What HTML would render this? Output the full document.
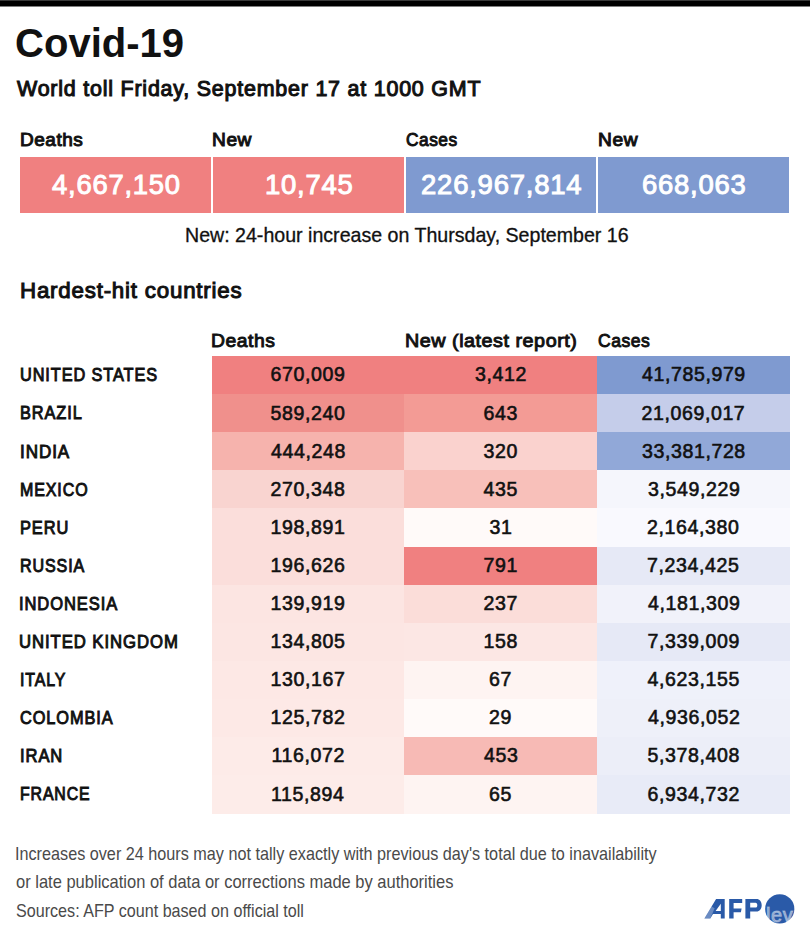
<!DOCTYPE html>
<html><head><meta charset="utf-8"><title>Covid-19</title><style>
*{margin:0;padding:0;box-sizing:border-box}
html,body{width:810px;height:930px;background:#fff;overflow:hidden}
body{position:relative;font-family:"Liberation Sans",sans-serif;color:#111}
.t{position:absolute;white-space:nowrap}
</style></head>
<body>
<div style="position:absolute;left:0;top:0;width:810px;height:7px;background:linear-gradient(#3a3a3a 0,#3a3a3a 1px,#000 1px,#000 6px,#808080 6px,#808080 7px)"></div>
<div style="position:absolute;top:157px;height:56px;left:20px;width:191px;background:#f08080"></div>
<div style="position:absolute;top:157px;height:56px;left:213px;width:191px;background:#f08080"></div>
<div style="position:absolute;top:157px;height:56px;left:405.5px;width:190.5px;background:#7f9ad0"></div>
<div style="position:absolute;top:157px;height:56px;left:598px;width:191px;background:#7f9ad0"></div>
<div style="position:absolute;left:212px;top:356.00px;width:192px;height:38.70px;background:#f08080"></div>
<div style="position:absolute;left:404px;top:356.00px;width:193px;height:38.70px;background:#f08080"></div>
<div style="position:absolute;left:597px;top:356.00px;width:193px;height:38.70px;background:#7f9ad0"></div>
<div style="position:absolute;left:212px;top:394.10px;width:192px;height:38.70px;background:#f0908c"></div>
<div style="position:absolute;left:404px;top:394.10px;width:193px;height:38.70px;background:#f39b95"></div>
<div style="position:absolute;left:597px;top:394.10px;width:193px;height:38.70px;background:#c5cdea"></div>
<div style="position:absolute;left:212px;top:432.20px;width:192px;height:38.70px;background:#f6b3ad"></div>
<div style="position:absolute;left:404px;top:432.20px;width:193px;height:38.70px;background:#fad2ce"></div>
<div style="position:absolute;left:597px;top:432.20px;width:193px;height:38.70px;background:#91a8d8"></div>
<div style="position:absolute;left:212px;top:470.30px;width:192px;height:38.70px;background:#f9d4d0"></div>
<div style="position:absolute;left:404px;top:470.30px;width:193px;height:38.70px;background:#f8c0ba"></div>
<div style="position:absolute;left:597px;top:470.30px;width:193px;height:38.70px;background:#f5f6fc"></div>
<div style="position:absolute;left:212px;top:508.40px;width:192px;height:38.70px;background:#fbdedb"></div>
<div style="position:absolute;left:404px;top:508.40px;width:193px;height:38.70px;background:#fffaf9"></div>
<div style="position:absolute;left:597px;top:508.40px;width:193px;height:38.70px;background:#f9f9fe"></div>
<div style="position:absolute;left:212px;top:546.50px;width:192px;height:38.70px;background:#fbdedb"></div>
<div style="position:absolute;left:404px;top:546.50px;width:193px;height:38.70px;background:#f08080"></div>
<div style="position:absolute;left:597px;top:546.50px;width:193px;height:38.70px;background:#e6e9f6"></div>
<div style="position:absolute;left:212px;top:584.60px;width:192px;height:38.70px;background:#fce5e2"></div>
<div style="position:absolute;left:404px;top:584.60px;width:193px;height:38.70px;background:#fbddd9"></div>
<div style="position:absolute;left:597px;top:584.60px;width:193px;height:38.70px;background:#f1f2fa"></div>
<div style="position:absolute;left:212px;top:622.70px;width:192px;height:38.70px;background:#fce6e3"></div>
<div style="position:absolute;left:404px;top:622.70px;width:193px;height:38.70px;background:#fce7e4"></div>
<div style="position:absolute;left:597px;top:622.70px;width:193px;height:38.70px;background:#e6e9f6"></div>
<div style="position:absolute;left:212px;top:660.80px;width:192px;height:38.70px;background:#fde8e5"></div>
<div style="position:absolute;left:404px;top:660.80px;width:193px;height:38.70px;background:#fef4f2"></div>
<div style="position:absolute;left:597px;top:660.80px;width:193px;height:38.70px;background:#eff1fa"></div>
<div style="position:absolute;left:212px;top:698.90px;width:192px;height:38.70px;background:#fde9e6"></div>
<div style="position:absolute;left:404px;top:698.90px;width:193px;height:38.70px;background:#fffaf9"></div>
<div style="position:absolute;left:597px;top:698.90px;width:193px;height:38.70px;background:#eef0f9"></div>
<div style="position:absolute;left:212px;top:737.00px;width:192px;height:38.70px;background:#fdebe8"></div>
<div style="position:absolute;left:404px;top:737.00px;width:193px;height:38.70px;background:#f7bab5"></div>
<div style="position:absolute;left:597px;top:737.00px;width:193px;height:38.70px;background:#eceef8"></div>
<div style="position:absolute;left:212px;top:775.10px;width:192px;height:38.70px;background:#fdece9"></div>
<div style="position:absolute;left:404px;top:775.10px;width:193px;height:38.70px;background:#fef4f2"></div>
<div style="position:absolute;left:597px;top:775.10px;width:193px;height:38.70px;background:#e8ebf7"></div>
<div class="t" style="left:15.05px;top:22.61px;font-size:41.159px;line-height:41.159px;color:#111;font-weight:700;transform:scaleX(0.9735);transform-origin:0 0;">Covid-19</div>
<div class="t" style="left:17.00px;top:78.14px;font-size:21.812px;line-height:21.812px;color:#111;font-weight:400;-webkit-text-stroke:1.05px #111;letter-spacing:0.8px;transform:scaleX(0.9834);transform-origin:0 0;">World toll Friday, September 17 at 1000 GMT</div>
<div class="t" style="left:19.62px;top:132.06px;font-size:17.609px;line-height:17.609px;color:#111;font-weight:400;-webkit-text-stroke:0.95px #111;letter-spacing:0.5px;transform:scaleX(1.0789);transform-origin:0 0;">Deaths</div>
<div class="t" style="left:212.21px;top:132.06px;font-size:17.609px;line-height:17.609px;color:#111;font-weight:400;-webkit-text-stroke:0.95px #111;letter-spacing:0.5px;transform:scaleX(1.0889);transform-origin:0 0;">New</div>
<div class="t" style="left:405.60px;top:132.06px;font-size:17.609px;line-height:17.609px;color:#111;font-weight:400;-webkit-text-stroke:0.95px #111;letter-spacing:0.5px;transform:scaleX(0.9846);transform-origin:0 0;">Cases</div>
<div class="t" style="left:597.51px;top:132.06px;font-size:17.609px;line-height:17.609px;color:#111;font-weight:400;-webkit-text-stroke:0.95px #111;letter-spacing:0.5px;transform:scaleX(1.0917);transform-origin:0 0;">New</div>
<div class="t" style="left:52.20px;top:170.63px;font-size:27.174px;line-height:27.174px;color:#fff;font-weight:400;-webkit-text-stroke:0.95px #fff;letter-spacing:0.77px;transform:scaleX(1.0087);transform-origin:0 0;">4,667,150</div>
<div class="t" style="left:264.58px;top:170.63px;font-size:27.174px;line-height:27.174px;color:#fff;font-weight:400;-webkit-text-stroke:0.95px #fff;letter-spacing:0.77px;transform:scaleX(1.0107);transform-origin:0 0;">10,745</div>
<div class="t" style="left:421.19px;top:170.63px;font-size:27.174px;line-height:27.174px;color:#fff;font-weight:400;-webkit-text-stroke:0.95px #fff;letter-spacing:0.77px;transform:scaleX(1.0121);transform-origin:0 0;">226,967,814</div>
<div class="t" style="left:641.79px;top:170.63px;font-size:27.174px;line-height:27.174px;color:#fff;font-weight:400;-webkit-text-stroke:0.95px #fff;letter-spacing:0.77px;transform:scaleX(1.0099);transform-origin:0 0;">668,063</div>
<div class="t" style="left:184.99px;top:225.54px;font-size:19.420px;line-height:19.420px;color:#111;font-weight:400;-webkit-text-stroke:0.3px #111;transform:scaleX(1.0096);transform-origin:0 0;">New: 24-hour increase on Thursday, September 16</div>
<div class="t" style="left:19.92px;top:279.17px;font-size:22.826px;line-height:22.826px;color:#111;font-weight:400;-webkit-text-stroke:1.05px #111;letter-spacing:0.8px;transform:scaleX(0.9787);transform-origin:0 0;">Hardest-hit countries</div>
<div class="t" style="left:211.48px;top:330.73px;font-size:19.058px;line-height:19.058px;color:#111;font-weight:400;-webkit-text-stroke:0.95px #111;letter-spacing:0.5px;transform:scaleX(1.0161);transform-origin:0 0;">Deaths</div>
<div class="t" style="left:404.76px;top:330.73px;font-size:19.058px;line-height:19.058px;color:#111;font-weight:400;-webkit-text-stroke:0.95px #111;letter-spacing:0.5px;transform:scaleX(1.0372);transform-origin:0 0;">New (latest report)</div>
<div class="t" style="left:598.10px;top:330.73px;font-size:19.058px;line-height:19.058px;color:#111;font-weight:400;-webkit-text-stroke:0.95px #111;letter-spacing:0.5px;transform:scaleX(0.9232);transform-origin:0 0;">Cases</div>
<div class="t" style="left:20.00px;top:366.39px;font-size:18.043px;line-height:18.043px;color:#111;font-weight:400;-webkit-text-stroke:0.95px #111;letter-spacing:1.0px;transform:scaleX(0.9040);transform-origin:0 0;">UNITED STATES</div>
<div class="t" style="left:270.50px;top:365.47px;font-size:19.565px;line-height:19.565px;color:#111;font-weight:400;-webkit-text-stroke:0.6px #111;letter-spacing:0.6px;">670,009</div>
<div class="t" style="left:475.00px;top:365.47px;font-size:19.565px;line-height:19.565px;color:#111;font-weight:400;-webkit-text-stroke:0.6px #111;letter-spacing:0.6px;">3,412</div>
<div class="t" style="left:642.00px;top:365.47px;font-size:19.565px;line-height:19.565px;color:#111;font-weight:400;-webkit-text-stroke:0.6px #111;letter-spacing:0.6px;">41,785,979</div>
<div class="t" style="left:20.09px;top:404.49px;font-size:18.043px;line-height:18.043px;color:#111;font-weight:400;-webkit-text-stroke:0.95px #111;letter-spacing:1.0px;transform:scaleX(0.9060);transform-origin:0 0;">BRAZIL</div>
<div class="t" style="left:270.50px;top:403.57px;font-size:19.565px;line-height:19.565px;color:#111;font-weight:400;-webkit-text-stroke:0.6px #111;letter-spacing:0.6px;">589,240</div>
<div class="t" style="left:483.50px;top:403.57px;font-size:19.565px;line-height:19.565px;color:#111;font-weight:400;-webkit-text-stroke:0.6px #111;letter-spacing:0.6px;">643</div>
<div class="t" style="left:641.50px;top:403.57px;font-size:19.565px;line-height:19.565px;color:#111;font-weight:400;-webkit-text-stroke:0.6px #111;letter-spacing:0.6px;">21,069,017</div>
<div class="t" style="left:19.75px;top:442.59px;font-size:18.043px;line-height:18.043px;color:#111;font-weight:400;-webkit-text-stroke:0.95px #111;letter-spacing:1.0px;transform:scaleX(0.9451);transform-origin:0 0;">INDIA</div>
<div class="t" style="left:271.00px;top:441.67px;font-size:19.565px;line-height:19.565px;color:#111;font-weight:400;-webkit-text-stroke:0.6px #111;letter-spacing:0.6px;">444,248</div>
<div class="t" style="left:483.50px;top:441.67px;font-size:19.565px;line-height:19.565px;color:#111;font-weight:400;-webkit-text-stroke:0.6px #111;letter-spacing:0.6px;">320</div>
<div class="t" style="left:642.00px;top:441.67px;font-size:19.565px;line-height:19.565px;color:#111;font-weight:400;-webkit-text-stroke:0.6px #111;letter-spacing:0.6px;">33,381,728</div>
<div class="t" style="left:19.81px;top:480.69px;font-size:18.043px;line-height:18.043px;color:#111;font-weight:400;-webkit-text-stroke:0.95px #111;letter-spacing:1.0px;transform:scaleX(0.8880);transform-origin:0 0;">MEXICO</div>
<div class="t" style="left:270.50px;top:479.77px;font-size:19.565px;line-height:19.565px;color:#111;font-weight:400;-webkit-text-stroke:0.6px #111;letter-spacing:0.6px;">270,348</div>
<div class="t" style="left:483.50px;top:479.77px;font-size:19.565px;line-height:19.565px;color:#111;font-weight:400;-webkit-text-stroke:0.6px #111;letter-spacing:0.6px;">435</div>
<div class="t" style="left:648.00px;top:479.77px;font-size:19.565px;line-height:19.565px;color:#111;font-weight:400;-webkit-text-stroke:0.6px #111;letter-spacing:0.6px;">3,549,229</div>
<div class="t" style="left:19.79px;top:518.79px;font-size:18.043px;line-height:18.043px;color:#111;font-weight:400;-webkit-text-stroke:0.95px #111;letter-spacing:1.0px;transform:scaleX(0.9098);transform-origin:0 0;">PERU</div>
<div class="t" style="left:270.50px;top:517.87px;font-size:19.565px;line-height:19.565px;color:#111;font-weight:400;-webkit-text-stroke:0.6px #111;letter-spacing:0.6px;">198,891</div>
<div class="t" style="left:489.50px;top:517.87px;font-size:19.565px;line-height:19.565px;color:#111;font-weight:400;-webkit-text-stroke:0.6px #111;letter-spacing:0.6px;">31</div>
<div class="t" style="left:647.00px;top:517.87px;font-size:19.565px;line-height:19.565px;color:#111;font-weight:400;-webkit-text-stroke:0.6px #111;letter-spacing:0.6px;">2,164,380</div>
<div class="t" style="left:19.81px;top:556.89px;font-size:18.043px;line-height:18.043px;color:#111;font-weight:400;-webkit-text-stroke:0.95px #111;letter-spacing:1.0px;transform:scaleX(0.8915);transform-origin:0 0;">RUSSIA</div>
<div class="t" style="left:270.50px;top:555.97px;font-size:19.565px;line-height:19.565px;color:#111;font-weight:400;-webkit-text-stroke:0.6px #111;letter-spacing:0.6px;">196,626</div>
<div class="t" style="left:483.50px;top:555.97px;font-size:19.565px;line-height:19.565px;color:#111;font-weight:400;-webkit-text-stroke:0.6px #111;letter-spacing:0.6px;">791</div>
<div class="t" style="left:647.00px;top:555.97px;font-size:19.565px;line-height:19.565px;color:#111;font-weight:400;-webkit-text-stroke:0.6px #111;letter-spacing:0.6px;">7,234,425</div>
<div class="t" style="left:19.48px;top:594.99px;font-size:18.043px;line-height:18.043px;color:#111;font-weight:400;-webkit-text-stroke:0.95px #111;letter-spacing:1.0px;transform:scaleX(0.9159);transform-origin:0 0;">INDONESIA</div>
<div class="t" style="left:270.50px;top:594.07px;font-size:19.565px;line-height:19.565px;color:#111;font-weight:400;-webkit-text-stroke:0.6px #111;letter-spacing:0.6px;">139,919</div>
<div class="t" style="left:483.50px;top:594.07px;font-size:19.565px;line-height:19.565px;color:#111;font-weight:400;-webkit-text-stroke:0.6px #111;letter-spacing:0.6px;">237</div>
<div class="t" style="left:648.00px;top:594.07px;font-size:19.565px;line-height:19.565px;color:#111;font-weight:400;-webkit-text-stroke:0.6px #111;letter-spacing:0.6px;">4,181,309</div>
<div class="t" style="left:19.47px;top:633.09px;font-size:18.043px;line-height:18.043px;color:#111;font-weight:400;-webkit-text-stroke:0.95px #111;letter-spacing:1.0px;transform:scaleX(0.9272);transform-origin:0 0;">UNITED KINGDOM</div>
<div class="t" style="left:270.50px;top:632.17px;font-size:19.565px;line-height:19.565px;color:#111;font-weight:400;-webkit-text-stroke:0.6px #111;letter-spacing:0.6px;">134,805</div>
<div class="t" style="left:483.50px;top:632.17px;font-size:19.565px;line-height:19.565px;color:#111;font-weight:400;-webkit-text-stroke:0.6px #111;letter-spacing:0.6px;">158</div>
<div class="t" style="left:647.50px;top:632.17px;font-size:19.565px;line-height:19.565px;color:#111;font-weight:400;-webkit-text-stroke:0.6px #111;letter-spacing:0.6px;">7,339,009</div>
<div class="t" style="left:19.82px;top:671.19px;font-size:18.043px;line-height:18.043px;color:#111;font-weight:400;-webkit-text-stroke:0.95px #111;letter-spacing:1.0px;transform:scaleX(0.8804);transform-origin:0 0;">ITALY</div>
<div class="t" style="left:270.50px;top:670.27px;font-size:19.565px;line-height:19.565px;color:#111;font-weight:400;-webkit-text-stroke:0.6px #111;letter-spacing:0.6px;">130,167</div>
<div class="t" style="left:489.00px;top:670.27px;font-size:19.565px;line-height:19.565px;color:#111;font-weight:400;-webkit-text-stroke:0.6px #111;letter-spacing:0.6px;">67</div>
<div class="t" style="left:647.50px;top:670.27px;font-size:19.565px;line-height:19.565px;color:#111;font-weight:400;-webkit-text-stroke:0.6px #111;letter-spacing:0.6px;">4,623,155</div>
<div class="t" style="left:20.00px;top:709.29px;font-size:18.043px;line-height:18.043px;color:#111;font-weight:400;-webkit-text-stroke:0.95px #111;letter-spacing:1.0px;transform:scaleX(0.9058);transform-origin:0 0;">COLOMBIA</div>
<div class="t" style="left:270.50px;top:708.37px;font-size:19.565px;line-height:19.565px;color:#111;font-weight:400;-webkit-text-stroke:0.6px #111;letter-spacing:0.6px;">125,782</div>
<div class="t" style="left:489.00px;top:708.37px;font-size:19.565px;line-height:19.565px;color:#111;font-weight:400;-webkit-text-stroke:0.6px #111;letter-spacing:0.6px;">29</div>
<div class="t" style="left:648.00px;top:708.37px;font-size:19.565px;line-height:19.565px;color:#111;font-weight:400;-webkit-text-stroke:0.6px #111;letter-spacing:0.6px;">4,936,052</div>
<div class="t" style="left:19.78px;top:747.39px;font-size:18.043px;line-height:18.043px;color:#111;font-weight:400;-webkit-text-stroke:0.95px #111;letter-spacing:1.0px;transform:scaleX(0.9182);transform-origin:0 0;">IRAN</div>
<div class="t" style="left:271.50px;top:746.47px;font-size:19.565px;line-height:19.565px;color:#111;font-weight:400;-webkit-text-stroke:0.6px #111;letter-spacing:0.6px;">116,072</div>
<div class="t" style="left:484.00px;top:746.47px;font-size:19.565px;line-height:19.565px;color:#111;font-weight:400;-webkit-text-stroke:0.6px #111;letter-spacing:0.6px;">453</div>
<div class="t" style="left:647.50px;top:746.47px;font-size:19.565px;line-height:19.565px;color:#111;font-weight:400;-webkit-text-stroke:0.6px #111;letter-spacing:0.6px;">5,378,408</div>
<div class="t" style="left:19.82px;top:785.49px;font-size:18.043px;line-height:18.043px;color:#111;font-weight:400;-webkit-text-stroke:0.95px #111;letter-spacing:1.0px;transform:scaleX(0.8795);transform-origin:0 0;">FRANCE</div>
<div class="t" style="left:271.00px;top:784.57px;font-size:19.565px;line-height:19.565px;color:#111;font-weight:400;-webkit-text-stroke:0.6px #111;letter-spacing:0.6px;">115,894</div>
<div class="t" style="left:489.00px;top:784.57px;font-size:19.565px;line-height:19.565px;color:#111;font-weight:400;-webkit-text-stroke:0.6px #111;letter-spacing:0.6px;">65</div>
<div class="t" style="left:647.50px;top:784.57px;font-size:19.565px;line-height:19.565px;color:#111;font-weight:400;-webkit-text-stroke:0.6px #111;letter-spacing:0.6px;">6,934,732</div>
<div class="t" style="left:15.04px;top:844.96px;font-size:18.406px;line-height:18.406px;color:#4a4a4a;font-weight:400;transform:scaleX(0.8811);transform-origin:0 0;">Increases over 24 hours may not tally exactly with previous day's total due to inavailability</div>
<div class="t" style="left:15.90px;top:873.41px;font-size:18.406px;line-height:18.406px;color:#4a4a4a;font-weight:400;transform:scaleX(0.8971);transform-origin:0 0;">or late publication of data or corrections made by authorities</div>
<div class="t" style="left:15.92px;top:901.86px;font-size:18.406px;line-height:18.406px;color:#4a4a4a;font-weight:400;transform:scaleX(0.8764);transform-origin:0 0;">Sources: AFP count based on official toll</div>
<svg style="position:absolute;left:700px;top:890px" width="110" height="40" viewBox="0 0 110 40">
<g fill="#2a5aa8" fill-rule="evenodd">
<path d="M4.4,28.6 L16.1,9.1 L24.7,9.1 L24.7,28.6 L20.8,28.6 L20.8,24 L13,24 L10.3,28.6 Z M20.8,13.8 L20.8,21 L15.6,21 Z"/>
<path d="M29.2,9.1 L42.2,9.1 L42.2,12.9 L33.6,12.9 L33.6,18.6 L41.6,18.6 L40.9,22.2 L33.6,22.2 L33.6,28.6 L29.2,28.6 Z"/>
<path d="M45.4,9 H56.5 C59.6,9 61.7,11.6 61.7,15.2 C61.7,18.9 59.6,21.5 56.5,21.5 H50.2 V28.6 H45.4 Z M50.2,12.8 H55.5 C56.7,12.8 57.3,13.8 57.3,15.2 C57.3,16.6 56.7,17.6 55.5,17.6 H50.2 Z"/>
<circle cx="79.75" cy="18.9" r="14.6"/>
</g>
<path d="M4.4,28.6 L11.6,16.6 L14.6,18.2 L10.3,28.6 Z" fill="#fff" fill-opacity="0.3"/>
<text x="66" y="31.6" font-family="Liberation Sans" font-size="20" letter-spacing="0.6" fill="#fff" fill-opacity="0.4" stroke="#fff" stroke-opacity="0.4" stroke-width="1">lev</text>
</svg>
</body></html>
